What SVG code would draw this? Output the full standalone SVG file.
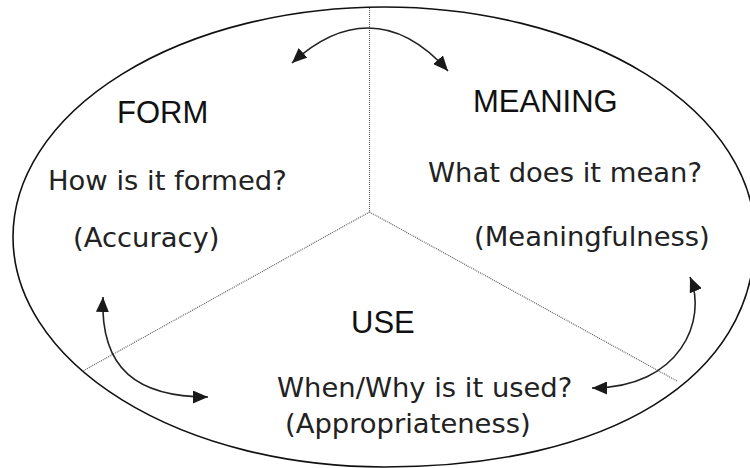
<svg xmlns="http://www.w3.org/2000/svg" width="750" height="468" viewBox="0 0 750 468">
  <style>
    .outline { fill: none; stroke: #111; stroke-width: 1.6; }
    .divider { fill: none; stroke: #555; stroke-width: 1.1; stroke-dasharray: 1 1; }
    .link { fill: none; stroke: #222; stroke-width: 1.6; marker-start: url(#head); marker-end: url(#head); }
    .title { font-family: "Liberation Sans", Arial, sans-serif; font-size: 31px; fill: #111; }
    .body { font-family: "DejaVu Sans", Verdana, sans-serif; font-size: 27.4px; fill: #222; }
  </style>
  <defs>
    <marker id="head" markerUnits="userSpaceOnUse" markerWidth="15" markerHeight="13" refX="15" refY="6.5" orient="auto-start-reverse">
      <path d="M0,0 L15,6.5 L0,13 z" fill="#1a1a1a"/>
    </marker>
  </defs>
  <rect width="750" height="468" fill="#fff"/>

  <!-- outer boundary: elliptical, a little fuller in the lower right -->
  <path class="outline" d="M384,7 A371,230 0 0 1 755,237 C755,378 610,467 384,467 A371,230 0 0 1 13,237 A371,230 0 0 1 384,7 Z"/>

  <!-- sector dividers -->
  <g id="dividers">
    <line class="divider" x1="369.5" y1="8" x2="369.5" y2="212"/>
    <line class="divider" x1="369.5" y1="212" x2="81" y2="372"/>
    <line class="divider" x1="369.5" y1="212" x2="677" y2="381"/>
  </g>

  <g id="form">
    <text class="title" x="117" y="123">FORM</text>
    <text class="body" x="48" y="190">How is it formed?</text>
    <text class="body" x="73" y="247">(Accuracy)</text>
  </g>

  <g id="meaning">
    <text class="title" x="473" y="112">MEANING</text>
    <text class="body" x="428" y="182">What does it mean?</text>
    <text class="body" x="474" y="246">(Meaningfulness)</text>
  </g>

  <g id="use">
    <text class="title" x="351" y="333">USE</text>
    <text class="body" x="277" y="397">When/Why is it used?</text>
    <text class="body" x="285" y="433">(Appropriateness)</text>
  </g>

  <!-- two-way links between the sectors -->
  <g id="connectors">
    <path class="link" d="M292,63 Q330,28 368,28 Q410,28 448,71"/>
    <path class="link" d="M103,297 C100,370 138,397 208,397"/>
    <path class="link" d="M690,277 C708,320 680,388 592,388"/>
  </g>
</svg>
